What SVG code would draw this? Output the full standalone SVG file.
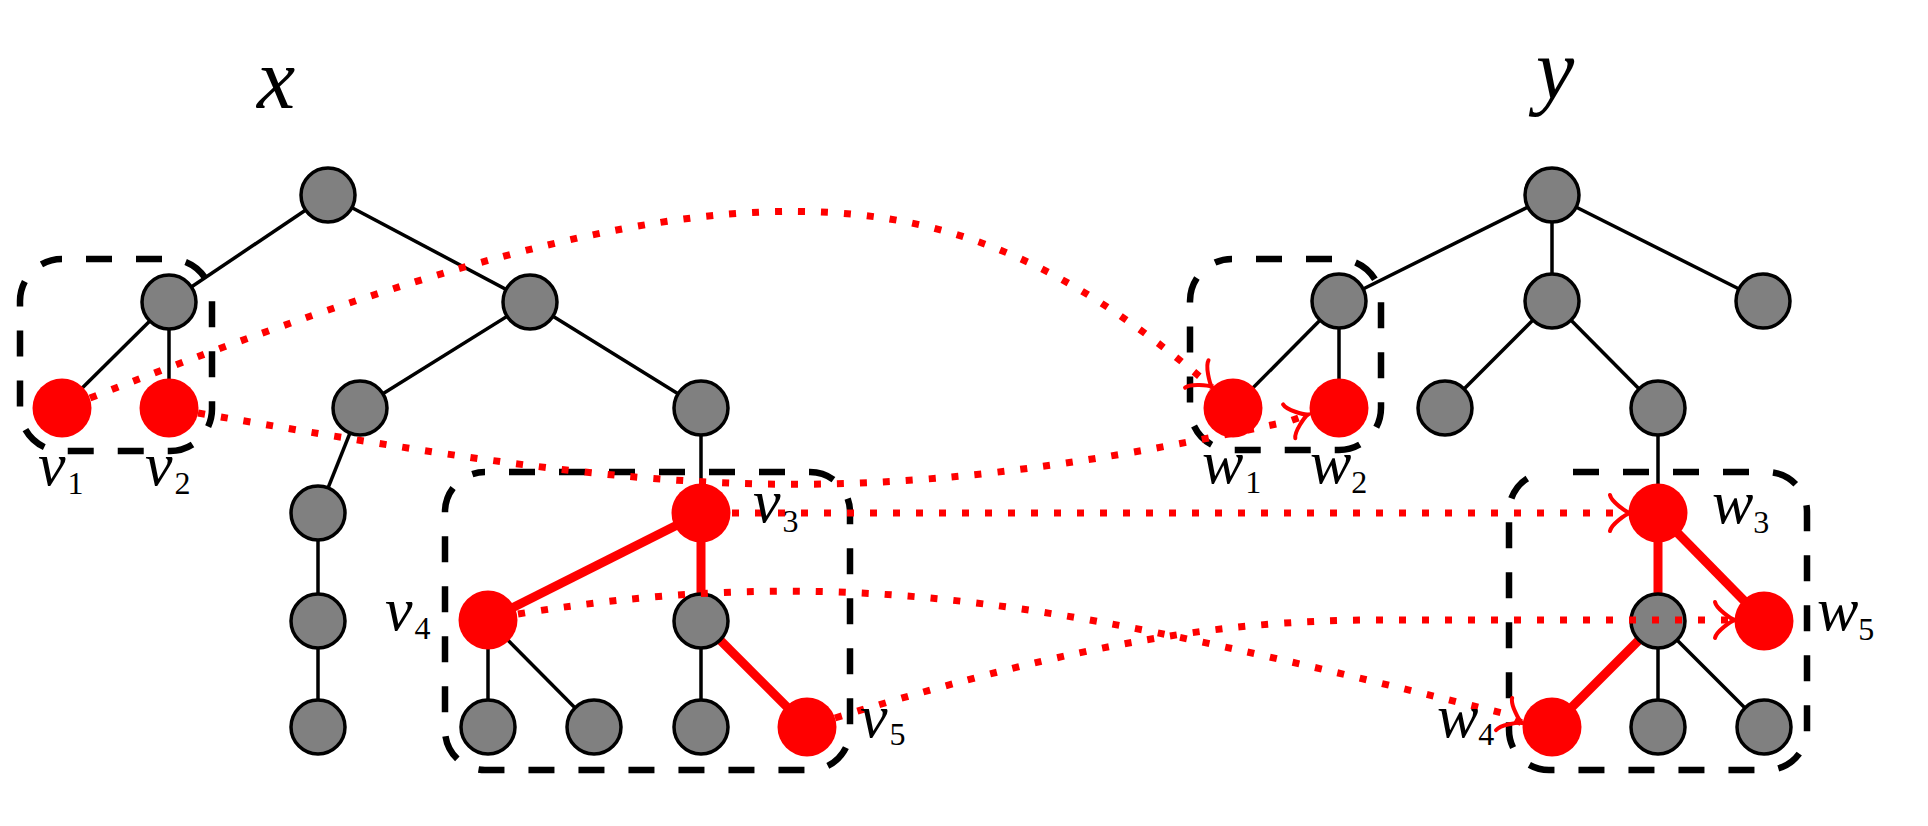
<svg xmlns="http://www.w3.org/2000/svg" width="1928" height="826" viewBox="0 0 1928 826">
<style>
.box{fill:none;stroke:#000;stroke-width:6.5;stroke-dasharray:26 24;stroke-dashoffset:26}
.e{stroke:#000;stroke-width:3.5;fill:none}
.re{stroke:#ff0000;stroke-width:9;fill:none}
.g{fill:#808080;stroke:#000;stroke-width:3.5}
.r{fill:#ff0000;stroke:none}
.dot{fill:none;stroke:#ff0000;stroke-width:7;stroke-dasharray:7 16;stroke-linecap:butt}
.ah{fill:none;stroke:#ff0000;stroke-width:4;stroke-linecap:round;stroke-dasharray:none}
.lbl{font-size:62px;fill:#000}
.sub{font-style:normal;font-size:32px}
.big{font-size:86px;fill:#000}
</style>
<defs>
<marker id="arr" markerUnits="userSpaceOnUse" markerWidth="60" markerHeight="60" refX="0" refY="0" orient="auto" overflow="visible">
<path class="ah" d="M -20 -18 C -18.7 -11.3, -4 -1.1, 0 0 C -4 1.1, -18.7 11.3, -20 18"/>
</marker>
</defs>
<rect width="1928" height="826" fill="#fff"/>

<g id="boxes">
<rect class="box" x="20" y="259" width="192" height="192" rx="42"/>
<rect class="box" x="445" y="472" width="405" height="298" rx="40"/>
<rect class="box" x="1190" y="259" width="191" height="191" rx="42"/>
<rect class="box" x="1509" y="472" width="298" height="298" rx="40"/>
</g>

<g id="edges">
<line class="e" x1="328" y1="195" x2="169" y2="302"/>
<line class="e" x1="328" y1="195" x2="530" y2="302"/>
<line class="e" x1="169" y1="302" x2="62" y2="408"/>
<line class="e" x1="169" y1="302" x2="169" y2="408"/>
<line class="e" x1="530" y1="302" x2="360" y2="408"/>
<line class="e" x1="530" y1="302" x2="701" y2="408"/>
<line class="e" x1="360" y1="408" x2="318" y2="513"/>
<line class="e" x1="318" y1="513" x2="318" y2="621"/>
<line class="e" x1="318" y1="621" x2="318" y2="727"/>
<line class="e" x1="701" y1="408" x2="701" y2="513"/>
<line class="e" x1="488" y1="620" x2="488" y2="727"/>
<line class="e" x1="488" y1="620" x2="594" y2="727"/>
<line class="e" x1="701" y1="621" x2="701" y2="727"/>
<line class="re" x1="701" y1="513" x2="488" y2="620"/>
<line class="re" x1="701" y1="513" x2="701" y2="621"/>
<line class="re" x1="701" y1="621" x2="807" y2="727"/>
<line class="e" x1="1552" y1="195" x2="1339" y2="301"/>
<line class="e" x1="1552" y1="195" x2="1552" y2="301"/>
<line class="e" x1="1552" y1="195" x2="1763" y2="301"/>
<line class="e" x1="1339" y1="301" x2="1233" y2="408"/>
<line class="e" x1="1339" y1="301" x2="1339" y2="408"/>
<line class="e" x1="1552" y1="301" x2="1445" y2="408"/>
<line class="e" x1="1552" y1="301" x2="1658" y2="408"/>
<line class="e" x1="1658" y1="408" x2="1658" y2="513"/>
<line class="e" x1="1658" y1="621" x2="1658" y2="727"/>
<line class="e" x1="1658" y1="621" x2="1764" y2="727"/>
<line class="re" x1="1658" y1="513" x2="1658" y2="621"/>
<line class="re" x1="1658" y1="513" x2="1764" y2="621"/>
<line class="re" x1="1658" y1="621" x2="1552" y2="727"/>
</g>

<g id="x_root"><circle class="g" cx="328" cy="195" r="27"/></g>
<g id="x_a"><circle class="g" cx="169" cy="302" r="27"/></g>
<g id="x_b"><circle class="g" cx="530" cy="302" r="27"/></g>
<g id="v1"><circle class="r" cx="62" cy="408" r="29.5"/></g>
<g id="v2"><circle class="r" cx="169" cy="408" r="29.5"/></g>
<g id="x_c"><circle class="g" cx="360" cy="408" r="27"/></g>
<g id="x_d"><circle class="g" cx="701" cy="408" r="27"/></g>
<g id="x_e"><circle class="g" cx="318" cy="513" r="27"/></g>
<g id="x_f"><circle class="g" cx="318" cy="621" r="27"/></g>
<g id="x_g"><circle class="g" cx="318" cy="727" r="27"/></g>
<g id="v3"><circle class="r" cx="701" cy="513" r="29.5"/></g>
<g id="v4"><circle class="r" cx="488" cy="620" r="29.5"/></g>
<g id="x_h"><circle class="g" cx="701" cy="621" r="27"/></g>
<g id="x_i"><circle class="g" cx="488" cy="727" r="27"/></g>
<g id="x_j"><circle class="g" cx="594" cy="727" r="27"/></g>
<g id="x_k"><circle class="g" cx="701" cy="727" r="27"/></g>
<g id="v5"><circle class="r" cx="807" cy="727" r="29.5"/></g>

<g id="y_root"><circle class="g" cx="1552" cy="195" r="27"/></g>
<g id="y_a"><circle class="g" cx="1339" cy="301" r="27"/></g>
<g id="y_b"><circle class="g" cx="1552" cy="301" r="27"/></g>
<g id="y_c"><circle class="g" cx="1763" cy="301" r="27"/></g>
<g id="w1"><circle class="r" cx="1233" cy="408" r="29.5"/></g>
<g id="w2"><circle class="r" cx="1339" cy="408" r="29.5"/></g>
<g id="y_d"><circle class="g" cx="1445" cy="408" r="27"/></g>
<g id="y_e"><circle class="g" cx="1658" cy="408" r="27"/></g>
<g id="w3"><circle class="r" cx="1658" cy="513" r="29.5"/></g>
<g id="y_f"><circle class="g" cx="1658" cy="621" r="27"/></g>
<g id="w5"><circle class="r" cx="1764" cy="621" r="29.5"/></g>
<g id="w4"><circle class="r" cx="1552" cy="727" r="29.5"/></g>
<g id="y_g"><circle class="g" cx="1658" cy="727" r="27"/></g>
<g id="y_h"><circle class="g" cx="1764" cy="727" r="27"/></g>

<g id="connectors">
<path class="dot" marker-end="url(#arr)" d="M 90 398 C 740 143, 946 159, 1212 387"/>
<path class="dot" marker-end="url(#arr)" d="M 198 413 C 666 494, 846 518, 1290 421 L 1308 414.5"/>
<path class="dot" marker-end="url(#arr)" d="M 732 513 L 1630 513"/>
<path class="dot" marker-end="url(#arr)" d="M 518 614 C 863 558, 1086 610, 1502 713 L 1522 723"/>
<path class="dot" marker-end="url(#arr)" d="M 835 718 C 1090 640, 1230 620, 1380 620 L 1735 620"/>
</g>

<g id="labels" font-family="Liberation Serif, Times New Roman, serif" font-style="italic">
<text class="big" x="257" y="108">x</text>
<text class="big" x="1536" y="98">y</text>
<text class="lbl" x="38" y="485">v<tspan class="sub" dx="2" dy="9">1</tspan></text>
<text class="lbl" x="145" y="485">v<tspan class="sub" dx="2" dy="9">2</tspan></text>
<text class="lbl" x="753" y="522">v<tspan class="sub" dx="2" dy="10">3</tspan></text>
<text class="lbl" x="385" y="630">v<tspan class="sub" dx="2" dy="9">4</tspan></text>
<text class="lbl" x="860" y="737">v<tspan class="sub" dx="2" dy="8">5</tspan></text>
<text class="lbl" x="1202" y="483">w<tspan class="sub" dx="2" dy="10">1</tspan></text>
<text class="lbl" x="1310" y="483">w<tspan class="sub" dx="0" dy="10">2</tspan></text>
<text class="lbl" x="1712" y="523">w<tspan class="sub" dx="0" dy="10">3</tspan></text>
<text class="lbl" x="1437" y="737">w<tspan class="sub" dx="0" dy="8">4</tspan></text>
<text class="lbl" x="1817" y="630">w<tspan class="sub" dx="0" dy="10">5</tspan></text>
</g>
</svg>
